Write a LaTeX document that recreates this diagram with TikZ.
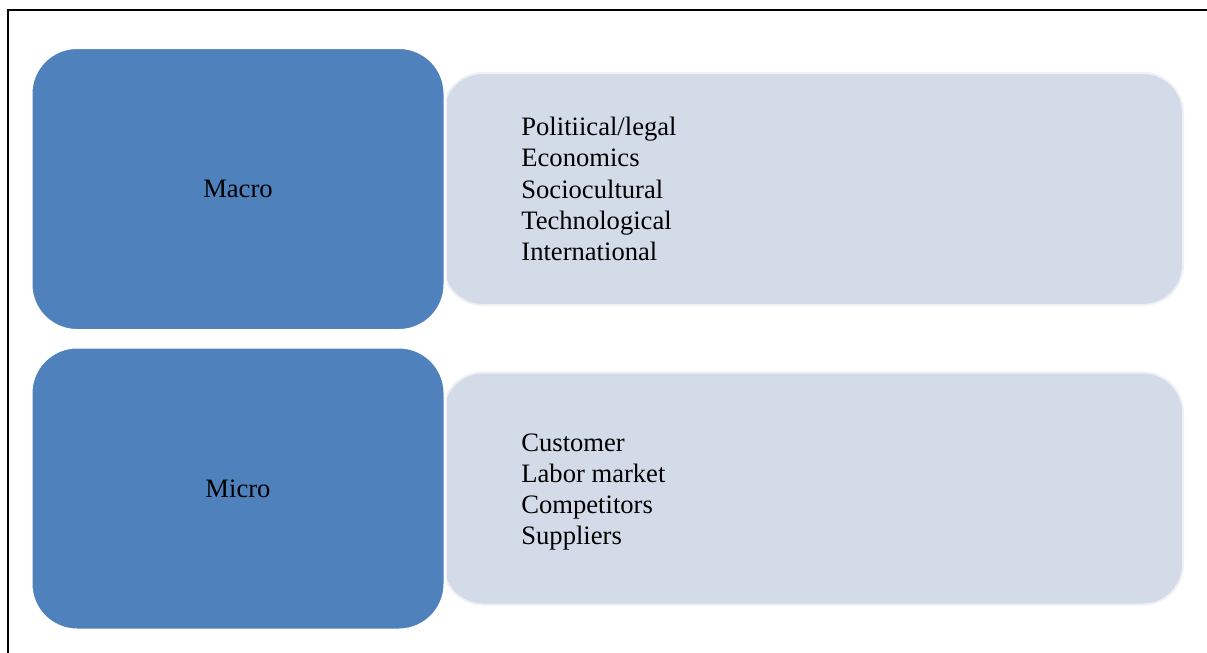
\documentclass[tikz,border=0pt]{standalone}
\usepackage{fontspec}
\setmainfont{Liberation Serif}
\usepackage{xcolor}
\usepackage{tikz}
\usetikzlibrary{positioning}
\definecolor{envblue}{HTML}{4F81BD}
\definecolor{envgrey}{HTML}{D3DBE8}
\tikzset{
  hbox/.style={fill=envblue, draw=white, line width=1.5pt, rounded corners=23pt, minimum width=207pt, minimum height=141.5pt, font=\fontsize{13.3}{15.65}\selectfont},
  lbox/.style={fill=envgrey, draw=white!60!envgrey, line width=1pt, rounded corners=20pt, minimum width=370pt, minimum height=116pt},
  ltext/.style={anchor=west, align=left, inner sep=0pt, font=\fontsize{13.3}{15.65}\selectfont}
}

\begin{document}
\begin{tikzpicture}[x=0.5pt, y=-0.5pt]
\useasboundingbox (0,0) rectangle (1207,653);
\draw[line width=1pt] (8,653) -- (8,10) -- (1207,10);
% macro row
\node[lbox] (l1) at (813,189) {};
\node[hbox] (h1) at (238,189) {Macro};
\node[ltext] (t1) at (521,189) {Politiical/legal\\Economics\\Sociocultural\\Technological\\International};
% micro row
\node[lbox] (l2) at (813,488.5) {};
\node[hbox] (h2) at (238,488.5) {Micro};
\node[ltext] (t2) at (521,492) {Customer\\Labor market\\Competitors\\Suppliers};
\end{tikzpicture}
\end{document}
